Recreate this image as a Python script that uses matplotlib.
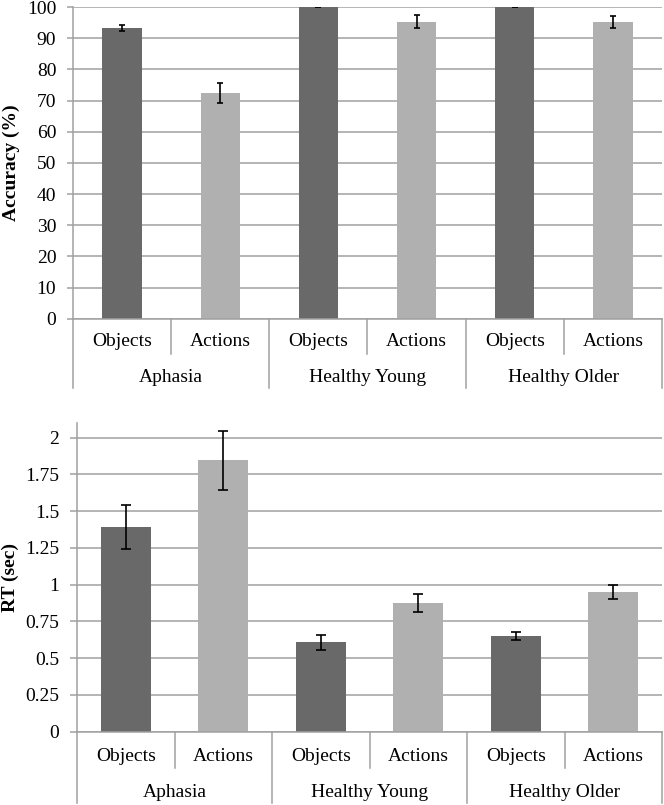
import numpy as np
import matplotlib
matplotlib.use("Agg")
import matplotlib.pyplot as plt
from matplotlib import transforms

plt.rcParams['font.family'] = ['Liberation Serif', 'DejaVu Serif']

# data
groups = ['Aphasia', 'Healthy Young', 'Healthy Older']
conditions = ['Objects', 'Actions']

acc_mean = [93.2, 72.4, 100.0, 95.3, 100.0, 95.2]
acc_err = [1.0, 3.3, 0.0, 2.0, 0.0, 2.0]

rt_mean = [1.39, 1.845, 0.607, 0.877, 0.65, 0.952]
rt_err = [0.15, 0.20, 0.05, 0.06, 0.028, 0.048]

dark = '#696969'
light = '#b0b0b0'
grid_col = '#a0a0a0'

W, H = 664, 805
fig = plt.figure(figsize=(W / 100, H / 100), dpi=100)


def px_axes(left, right, top, bottom):
    return fig.add_axes([left / W, 1 - bottom / H, (right - left) / W, (bottom - top) / H])


def draw_panel(ax, means, errs, ymax, ticks, ticklabels, ylabel, width, capsize,
               ticklen, w_px, h_px, lab_x, sub_depth, grp_depth, sub_lab, grp_lab):
    x = np.arange(len(means))
    cols = [dark if i % 2 == 0 else light for i in x]
    ax.bar(x, means, width=width, color=cols, zorder=2)
    ax.errorbar(x, means, yerr=errs, fmt='none', ecolor='black', elinewidth=1.2,
                capsize=capsize, capthick=1.2, zorder=3)
    ax.set_xlim(-0.5, len(means) - 0.5)
    ax.set_ylim(0, ymax)
    ax.set_yticks(ticks)
    ax.set_yticklabels(ticklabels, fontsize=14)
    ax.yaxis.grid(True, color=grid_col, linewidth=1.1, zorder=0)
    ax.set_axisbelow(True)
    ax.set_xticks([])
    for s in ['top', 'right']:
        ax.spines[s].set_visible(False)
    for s in ['left', 'bottom']:
        ax.spines[s].set_color(grid_col)
        ax.spines[s].set_linewidth(1.1)
    ax.tick_params(axis='y', length=ticklen, color=grid_col, width=1.1, pad=7.5)
    ax.set_ylabel(ylabel, fontsize=14, fontweight='bold', va='center')
    ax.yaxis.set_label_coords(-lab_x / w_px, 0.5)

    trans = transforms.blended_transform_factory(ax.transData, ax.transAxes)
    # condition labels and separators
    for i in x:
        ax.text(i, -sub_lab / h_px, conditions[i % 2], transform=trans,
                ha='center', va='center', fontsize=14)
    for b in np.arange(len(means) + 1) - 0.5:
        k = int(b + 0.5)
        depth = grp_depth if k % 2 == 0 else sub_depth
        ax.plot([b, b], [0, -depth / h_px], transform=trans, color=grid_col,
                linewidth=1.1, clip_on=False)
    for g, name in enumerate(groups):
        ax.text(2 * g + 0.5, -grp_lab / h_px, name, transform=trans,
                ha='center', va='center', fontsize=14)


ax1 = px_axes(73, 662, 7, 318.7)
draw_panel(ax1, acc_mean, acc_err, 100, np.arange(0, 101, 10),
           [str(v) for v in range(0, 101, 10)], 'Accuracy (%)', 0.4, 2.5, 4.5,
           589, 311.7, 62, 35.3, 69.3, 23.3, 59.3)

ax2 = px_axes(77, 662, 423, 731.7)
rt_ticks = np.arange(0, 2.01, 0.25)
rt_labels = ['0', '0.25', '0.5', '0.75', '1', '1.25', '1.5', '1.75', '2']
draw_panel(ax2, rt_mean, rt_err, 2.1, rt_ticks, rt_labels, 'RT (sec)', 0.51, 3.5, 5.3,
           585, 308.7, 67, 36.3, 71.3, 25.0, 60.6)

fig.savefig('out.png', dpi=100)
